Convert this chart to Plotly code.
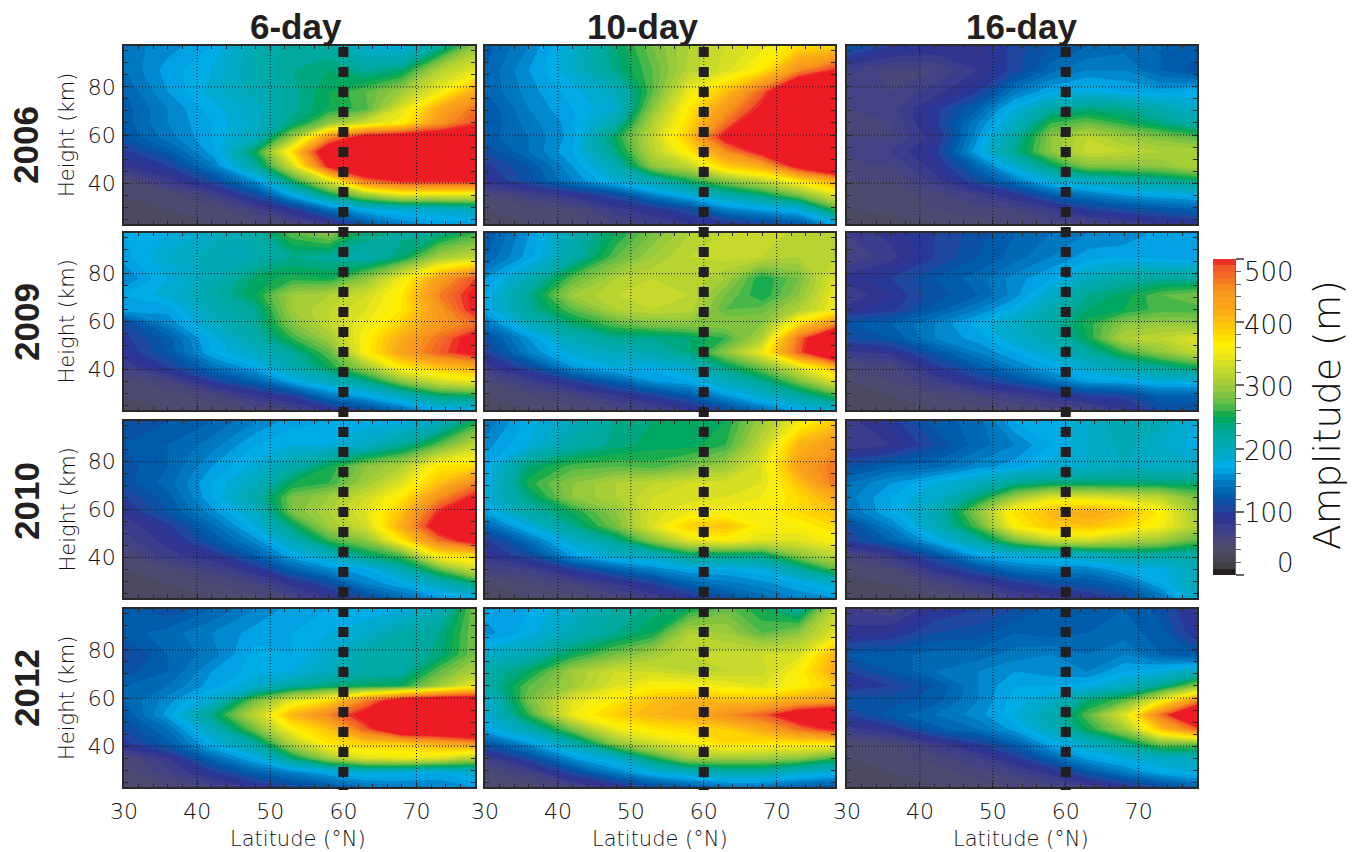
import plotly.graph_objects as go

W, H = 1359, 852

lats = [30, 36, 42, 48, 53, 58, 63, 68, 73, 78]
heights = [23, 29, 35, 41, 47, 53, 59, 65, 71, 78, 87, 97]
years = ["2006", "2009", "2010", "2012"]
periods = ["6-day", "10-day", "16-day"]
lat_ticks = [30, 40, 50, 60, 70]
height_ticks = [40, 60, 80]
amp_ticks = [0, 100, 200, 300, 400, 500]

a2006_6 = [
 [30,35,40,45,55,75,120,150,165,165],
 [35,40,45,65,95,140,175,185,190,200],
 [40,45,65,110,170,240,300,340,340,340],
 [45,75,110,160,250,340,470,510,510,510],
 [80,100,145,220,330,510,600,600,600,600],
 [95,125,165,250,380,560,600,600,600,600],
 [120,145,170,200,300,450,530,550,550,550],
 [125,150,170,195,235,290,330,360,440,490],
 [125,150,175,195,225,250,265,340,420,470],
 [130,160,185,205,225,250,270,300,350,420],
 [140,165,180,210,230,240,225,240,310,345],
 [145,155,170,210,225,220,185,175,220,290]]
a2006_10 = [
 [35,40,45,60,70,80,90,105,120,170],
 [40,45,50,75,90,110,150,165,180,260],
 [50,65,85,110,150,180,210,240,280,340],
 [85,115,150,185,210,250,290,320,370,420],
 [95,120,160,210,290,320,390,420,520,600],
 [110,140,170,235,315,370,450,520,600,600],
 [125,140,165,250,320,400,520,600,600,600],
 [120,145,165,215,310,380,470,560,600,600],
 [120,150,170,190,290,370,440,510,600,600],
 [130,155,175,200,270,350,400,480,600,600],
 [130,160,190,235,270,315,335,370,450,500],
 [125,150,190,240,280,310,330,345,380,380]]
a2006_16 = [
 [30,30,40,45,50,55,60,70,80,85],
 [40,45,50,55,60,75,100,110,120,130],
 [45,45,55,70,90,125,145,160,170,175],
 [50,50,75,110,145,185,200,215,225,240],
 [55,60,85,135,190,240,285,285,290,310],
 [65,70,95,170,230,290,325,320,310,310],
 [60,60,85,160,220,290,320,300,285,270],
 [55,60,95,150,195,260,275,255,235,215],
 [60,65,95,130,180,220,235,230,210,190],
 [70,60,75,100,145,170,180,170,165,175],
 [70,55,60,80,105,135,150,150,130,115],
 [120,100,90,85,105,120,130,135,130,125]]
a2009_6 = [
 [35,40,45,50,60,85,110,140,170,170],
 [40,45,55,80,100,145,170,200,240,250],
 [45,60,100,130,170,200,230,290,330,350],
 [70,100,140,170,210,250,300,370,400,420],
 [90,120,170,195,225,270,360,430,480,520],
 [95,125,175,215,260,300,360,420,470,520],
 [110,150,195,225,285,320,350,390,440,470],
 [170,165,205,230,300,320,340,370,440,510],
 [170,185,215,250,300,310,330,370,460,510],
 [150,180,205,245,255,250,290,350,430,490],
 [165,190,205,210,230,225,210,240,300,320],
 [170,180,195,220,270,290,240,225,230,260]]
a2009_10 = [
 [35,40,45,55,65,80,110,140,170,185],
 [40,50,60,80,100,125,160,190,220,260],
 [50,70,100,130,160,170,200,230,280,340],
 [75,110,160,180,175,195,240,280,340,410],
 [100,150,185,200,210,235,290,350,480,600],
 [110,160,205,230,230,240,260,310,470,600],
 [140,200,240,270,285,290,290,290,380,450],
 [170,225,270,310,320,315,270,275,310,350],
 [170,230,300,320,325,320,280,250,290,350],
 [160,205,270,310,320,320,300,250,280,340],
 [130,165,215,270,300,320,325,320,310,320],
 [120,160,210,250,280,310,320,330,315,310]]
a2009_16 = [
 [30,35,40,45,50,55,60,80,110,110],
 [35,40,50,60,70,85,100,105,130,130],
 [40,50,70,95,115,140,165,170,180,180],
 [50,55,95,125,150,170,190,210,230,250],
 [75,85,120,150,170,190,220,260,290,320],
 [110,120,150,165,190,210,250,310,320,340],
 [120,130,150,175,195,220,255,290,295,290],
 [85,95,125,150,175,210,240,250,265,265],
 [70,90,115,130,155,195,230,245,270,280],
 [85,100,120,135,155,170,200,220,225,225],
 [60,75,100,120,135,150,165,170,165,160],
 [70,85,100,115,130,140,150,150,165,165]]
a2010_6 = [
 [30,35,40,45,60,80,110,135,160,175],
 [35,40,50,60,85,110,150,170,200,240],
 [40,50,65,90,130,155,170,210,270,330],
 [50,75,90,130,170,200,240,270,370,380],
 [65,85,120,155,205,260,290,370,470,530],
 [70,95,135,180,240,300,330,420,530,600],
 [85,120,155,195,280,310,340,400,500,600],
 [100,125,170,215,280,300,330,370,450,510],
 [115,135,170,200,250,260,300,340,400,460],
 [115,130,160,185,215,250,290,310,370,380],
 [120,130,145,170,180,180,195,225,270,320],
 [110,120,130,150,165,170,175,175,195,250]]
a2010_10 = [
 [30,40,45,55,70,90,115,135,150,160],
 [40,50,60,80,100,130,145,155,170,190],
 [60,70,100,130,150,170,170,180,220,270],
 [85,110,165,195,200,240,240,240,290,320],
 [95,140,190,230,290,340,360,340,340,360],
 [130,180,230,280,340,390,400,360,360,380],
 [165,215,250,290,335,350,355,360,380,400],
 [180,235,290,310,330,335,340,350,380,420],
 [170,255,290,310,320,330,335,340,400,470],
 [170,240,265,270,265,280,300,340,430,470],
 [155,180,215,235,245,245,260,320,410,440],
 [140,175,200,230,240,250,250,300,350,390]]
a2010_16 = [
 [30,35,40,50,65,75,85,105,140,195],
 [35,40,55,75,95,110,120,135,170,210],
 [45,50,85,115,140,150,150,170,175,200],
 [55,80,120,170,185,190,200,220,220,215],
 [100,130,170,220,280,320,330,310,300,270],
 [110,150,200,270,360,395,400,380,355,310],
 [140,170,205,290,375,405,420,405,365,300],
 [145,170,190,240,300,340,340,330,320,280],
 [140,160,180,200,230,240,240,240,240,240],
 [115,130,135,155,165,185,190,200,195,195],
 [70,80,110,135,150,170,190,205,190,175],
 [75,95,125,135,170,175,190,210,205,180]]
a2012_6 = [
 [40,50,60,85,105,120,140,145,150,160],
 [45,65,95,130,150,170,185,180,170,190],
 [50,80,135,175,240,300,340,350,340,310],
 [95,125,175,220,310,370,390,390,420,440],
 [110,140,200,280,360,400,480,570,570,600],
 [120,165,235,320,410,460,520,600,600,600],
 [130,155,190,280,340,380,460,540,560,560],
 [130,140,165,190,220,240,245,250,300,350],
 [115,130,160,175,180,200,215,220,270,310],
 [105,130,145,175,170,190,215,215,235,280],
 [125,135,150,165,170,180,190,215,230,280],
 [130,110,130,150,165,170,170,180,200,280]]
a2012_10 = [
 [40,45,60,85,110,125,140,140,130,120],
 [50,65,110,150,180,200,210,210,190,180],
 [70,110,160,190,250,300,300,300,290,260],
 [120,160,210,290,330,350,380,370,370,370],
 [170,210,280,350,370,380,390,420,470,510],
 [180,260,350,390,410,420,450,480,540,570],
 [180,280,340,370,400,410,400,400,420,430],
 [215,270,300,340,360,360,350,340,360,390],
 [215,245,300,330,330,320,320,325,360,420],
 [190,210,250,280,300,320,325,330,335,410],
 [155,175,205,230,250,310,300,270,290,340],
 [165,170,190,220,235,250,275,250,220,320]]
a2012_16 = [
 [30,35,40,45,50,55,70,90,110,130],
 [35,40,45,55,65,85,120,145,170,180],
 [40,45,55,70,95,130,165,180,195,200],
 [45,50,75,100,130,170,195,230,280,280],
 [75,90,125,140,165,200,250,300,400,480],
 [100,125,140,155,180,210,270,340,470,600],
 [120,115,125,150,175,190,240,270,350,450],
 [90,100,120,150,170,170,175,195,230,290],
 [100,120,140,150,160,155,150,170,180,200],
 [120,125,135,135,145,150,140,150,130,120],
 [85,90,110,115,130,125,130,135,125,90],
 [70,60,90,100,110,125,120,130,115,80]]

panels = [[a2006_6, a2006_10, a2006_16],
          [a2009_6, a2009_10, a2009_16],
          [a2010_6, a2010_10, a2010_16],
          [a2012_6, a2012_10, a2012_16]]

color_anchors = [
 (0,"#231f20"),(10,"#231f20"),(15,"#3f3f46"),(30,"#4a4a5c"),(50,"#4c4a75"),(70,"#3f3f8a"),
 (90,"#2e3192"),(105,"#1f479e"),(120,"#0054a6"),(140,"#0070b9"),(155,"#0089cf"),(170,"#00aeef"),
 (185,"#00a9d0"),(205,"#00aab5"),(225,"#00a99d"),(240,"#00a874"),(250,"#00a651"),(262,"#3db54a"),
 (275,"#6abd45"),(290,"#8dc63f"),(310,"#b0d135"),(335,"#d7df23"),(350,"#f0e816"),(362,"#fff200"),
 (385,"#ffd400"),(405,"#fdb913"),(430,"#f9a01b"),(450,"#f7941d"),(470,"#f36f21"),(485,"#f15a29"),(500,"#ed1c24"),
]
colorscale = [[v / 500, c] for v, c in color_anchors]
bar_levels = [[v + 5] for v in range(0, 500, 10)]
bar_edges = list(range(0, 510, 10))

col_px = [(124, 475), (485, 835), (847, 1197)]
row_px = [(46, 224), (233, 410), (421, 598), (609, 787)]
title_x = [296, 642, 1021]
xlabel_x = [298, 660, 1021]
LABEL = dict(family="DejaVu Sans", size=22, color="#111111", weight=200)
AXT = dict(LABEL, size=21)
TITLE = dict(family="Liberation Sans", size=35, color="#231f20", weight=700)
INK = "#2a2a2a"

def fx(p): return p / W
def fy(p): return 1 - p / H

layout = dict(width=W, height=H, margin=dict(l=0, r=0, t=0, b=0, pad=0, autoexpand=False), autosize=False,
              paper_bgcolor="white", plot_bgcolor="white", showlegend=False)
fig = go.Figure()
annotations, shapes = [], []

def note(x, y, text, font, angle=0):
    annotations.append(dict(xref="paper", yref="paper", x=fx(x), y=fy(y), text=text, showarrow=False,
                            font=font, textangle=angle, xanchor="center", yanchor="middle"))

n = 0
for r, (top, bottom) in enumerate(row_px):
    for c, (left, right) in enumerate(col_px):
        n += 1
        xa, ya = ("x", "y") if n == 1 else (f"x{n}", f"y{n}")
        fig.add_trace(go.Contour(x=lats, y=heights, z=panels[r][c], xaxis=xa, yaxis=ya,
                                 colorscale=colorscale, zmin=0, zmax=500, showscale=False,
                                 autocontour=False, contours=dict(start=0, end=500, size=10, coloring="fill", showlines=False),
                                 line=dict(width=0, smoothing=0), hoverinfo="skip"))
        common = dict(showline=True, linecolor=INK, linewidth=1.5, mirror="allticks", ticks="inside", ticklen=5,
                      tickcolor=INK, tickwidth=1, showgrid=False, zeroline=False, tickfont=LABEL, layer="above traces",
                      automargin=False)
        layout["xaxis" + ("" if n == 1 else str(n))] = dict(
            common, domain=[fx(left), fx(right)], range=[30, 78], anchor=ya, tickmode="array", tickvals=lat_ticks,
            showticklabels=(r == 3), ticklabelstandoff=4,
            minor=dict(dtick=2, tick0=30, ticks="inside", ticklen=3, tickcolor=INK, tickwidth=1))
        layout["yaxis" + ("" if n == 1 else str(n))] = dict(
            common, domain=[fy(bottom), fy(top)], range=[23, 97], anchor=xa, tickmode="array", tickvals=height_ticks,
            showticklabels=(c == 0), ticklabelstandoff=2,
            minor=dict(dtick=5, tick0=25, ticks="inside", ticklen=4, tickcolor=INK, tickwidth=1))
        dot = dict(color="#1a1a1a", width=1, dash="1px,2px")
        for v in lat_ticks[1:]:
            shapes.append(dict(type="line", xref=xa, yref=f"{ya} domain", x0=v, x1=v, y0=0, y1=1, line=dot, layer="above"))
        for v in height_ticks:
            shapes.append(dict(type="line", xref=f"{xa} domain", yref=ya, x0=0, x1=1, y0=v, y1=v, line=dot, layer="above"))
        if r == 0:
            note(title_x[c], 27, periods[c], TITLE)
        if r == 3:
            note(xlabel_x[c], 839, "Latitude (°N)", AXT)
        if c == 0:
            note(67, (top + bottom) / 2, "Height (km)", AXT, -90)

# dashed 60°N marker spanning the full stack of rows in each column
for c in range(3):
    xa = "x" if c == 0 else f"x{c + 1}"
    shapes.append(dict(type="line", xref=xa, yref="paper", x0=60, x1=60, y0=fy(47), y1=fy(790),
                       line=dict(color="#231f20", width=10, dash="10px,10px"), layer="above"))

for label, y in zip(years, [145, 322, 501, 688]):
    note(26, y, label, TITLE, -90)

# colour bar as its own axes
fig.add_trace(go.Heatmap(x=[0, 1], y=bar_edges, z=bar_levels, xaxis="x13", yaxis="y13",
                         colorscale=colorscale, zmin=0, zmax=500, showscale=False, hoverinfo="skip"))
layout["xaxis13"] = dict(domain=[fx(1213), fx(1235)], range=[0, 1], anchor="y13", visible=False)
layout["yaxis13"] = dict(domain=[fy(575), fy(259)], range=[0, 500], anchor="x13", side="right", tickmode="array", tickvals=amp_ticks,
                         showticklabels=False, ticks="outside", ticklen=8, tickcolor="#666", tickwidth=1.5, showgrid=False,
                         zeroline=False, showline=True, linecolor="#666", linewidth=1, automargin=False,
                         minor=dict(dtick=20, ticks="outside", ticklen=5, tickcolor="#666", tickwidth=1))
BAR_FONT = dict(LABEL, size=26)
for v, shift in zip(amp_ticks, [12, -1, -2, -2, -3, -13]):
    annotations.append(dict(xref="paper", yref="y13", x=fx(1296), y=v, yshift=shift, text=str(v), showarrow=False,
                            font=BAR_FONT, xanchor="right", yanchor="middle", align="right"))
note(1327, 415, "Amplitude (m)", dict(LABEL, size=37.5), -90)

layout["annotations"] = annotations
layout["shapes"] = shapes
fig.update_layout(**layout)
fig.write_html("out.html", config=dict(displayModeBar=False),
               post_script="document.body.style.margin='0';document.body.style.overflow='hidden';")
